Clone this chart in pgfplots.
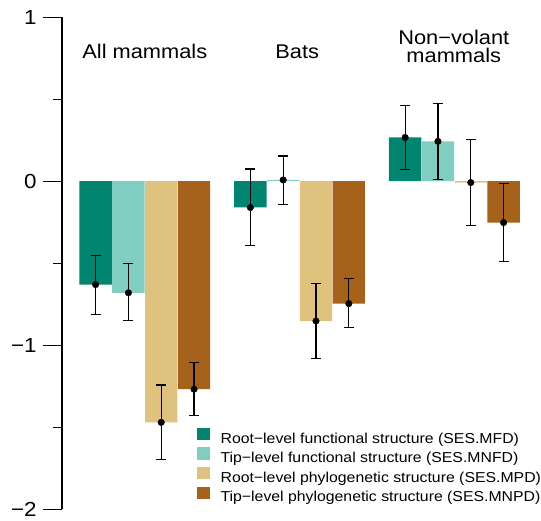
\documentclass[border=0pt]{standalone}
\usepackage{fontspec}
\setmainfont{Liberation Sans}[FakeStretch=1.1]
\usepackage{pgfplots}
\pgfplotsset{compat=1.18}
\usetikzlibrary{calc}
\definecolor{c1}{HTML}{018571}
\definecolor{c2}{HTML}{80CDC1}
\definecolor{c3}{HTML}{DFC27D}
\definecolor{c4}{HTML}{A6611A}
\begin{document}
\begin{tikzpicture}
\begin{axis}[
  scale only axis,
  width=471.95bp, height=494.4bp,
  xmin=0.465, xmax=3.5,
  ymin=-2, ymax=1,
  axis x line=none,
  axis y line=left,
  y axis line style={-, line width=1.3bp},
  ytick={-2,-1,0,1},
  yticklabels={−2,−1,0,1},
  minor ytick={-1.5,-0.5,0.5},
  tick align=outside,
  major tick length=19bp,
  minor tick length=9bp,
  every tick/.style={line width=1.3bp, black},
  yticklabel style={font=\fontsize{20.5}{24}\selectfont, anchor=east, xshift=-3bp},
  clip=false,
  legend style={draw=none, fill=none, inner sep=0pt, outer sep=0pt,
    at={(0.288,0.166)}, anchor=north west,
    font=\fontsize{14.5}{17}\selectfont,
    nodes={inner sep=0pt, text height=10.5bp, text depth=3bp},
    row sep=1.3bp, column sep=11bp},
  legend cell align=left,
  legend image code/.code={\fill[#1] (0bp,-0.7bp) rectangle (12.4bp,11.7bp);},
]
% bars
\addplot[ybar, bar width=0.209, bar shift=0pt, fill=c1, draw=none]
  coordinates {(0.682,-0.63) (1.682,-0.16) (2.682,0.267)};
\addlegendentry{Root−level functional structure (SES.MFD)}
\addplot[ybar, bar width=0.209, bar shift=0pt, fill=c2, draw=none]
  coordinates {(0.894,-0.68) (1.894,0.008) (2.894,0.243)};
\addlegendentry{Tip−level functional structure (SES.MNFD)}
\addplot[ybar, bar width=0.209, bar shift=0pt, fill=c3, draw=none]
  coordinates {(1.106,-1.47) (2.106,-0.852) (3.106,-0.008)};
\addlegendentry{Root−level phylogenetic structure (SES.MPD)}
\addplot[ybar, bar width=0.209, bar shift=0pt, fill=c4, draw=none]
  coordinates {(1.318,-1.268) (2.318,-0.746) (3.318,-0.252)};
\addlegendentry{Tip−level phylogenetic structure (SES.MNPD)}
% points with error bars
\addplot[forget plot, only marks, mark=*, mark size=3.3bp, black,
  error bars/.cd, y dir=both, y explicit,
  error bar style={line width=1.2bp, black},
  error mark options={rotate=90, mark size=5bp, line width=1.2bp, black}]
  coordinates {
  (0.682,-0.63) += (0,0.177) -= (0,0.183)
  (0.894,-0.68) += (0,0.177) -= (0,0.171)
  (1.106,-1.47) += (0,0.228) -= (0,0.225)
  (1.318,-1.268) += (0,0.164) -= (0,0.160)
  (1.682,-0.16) += (0,0.235) -= (0,0.234)
  (1.894,0.008) += (0,0.146) -= (0,0.148)
  (2.106,-0.852) += (0,0.231) -= (0,0.230)
  (2.318,-0.746) += (0,0.151) -= (0,0.148)
  (2.682,0.267) += (0,0.194) -= (0,0.194)
  (2.894,0.243) += (0,0.230) -= (0,0.231)
  (3.106,-0.008) += (0,0.261) -= (0,0.263)
  (3.318,-0.252) += (0,0.240) -= (0,0.239)
  };
% group titles
\node[anchor=base, font=\fontsize{20}{24}\selectfont, inner sep=0pt] at (axis cs:1,0.749) {All mammals};
\node[anchor=base, font=\fontsize{20}{24}\selectfont, inner sep=0pt] at (axis cs:1.985,0.749) {Bats};
\node[anchor=base, font=\fontsize{20}{24}\selectfont, inner sep=0pt] at (axis cs:2.996,0.834) {Non−volant};
\node[anchor=base, font=\fontsize{20}{24}\selectfont, inner sep=0pt] at (axis cs:2.996,0.7245) {mammals};
\end{axis}
\path ($(current axis.south west)+(-62.3bp,-11.3bp)$) rectangle ($(current axis.north east)+(6.75bp,17.3bp)$);
\end{tikzpicture}
\end{document}
